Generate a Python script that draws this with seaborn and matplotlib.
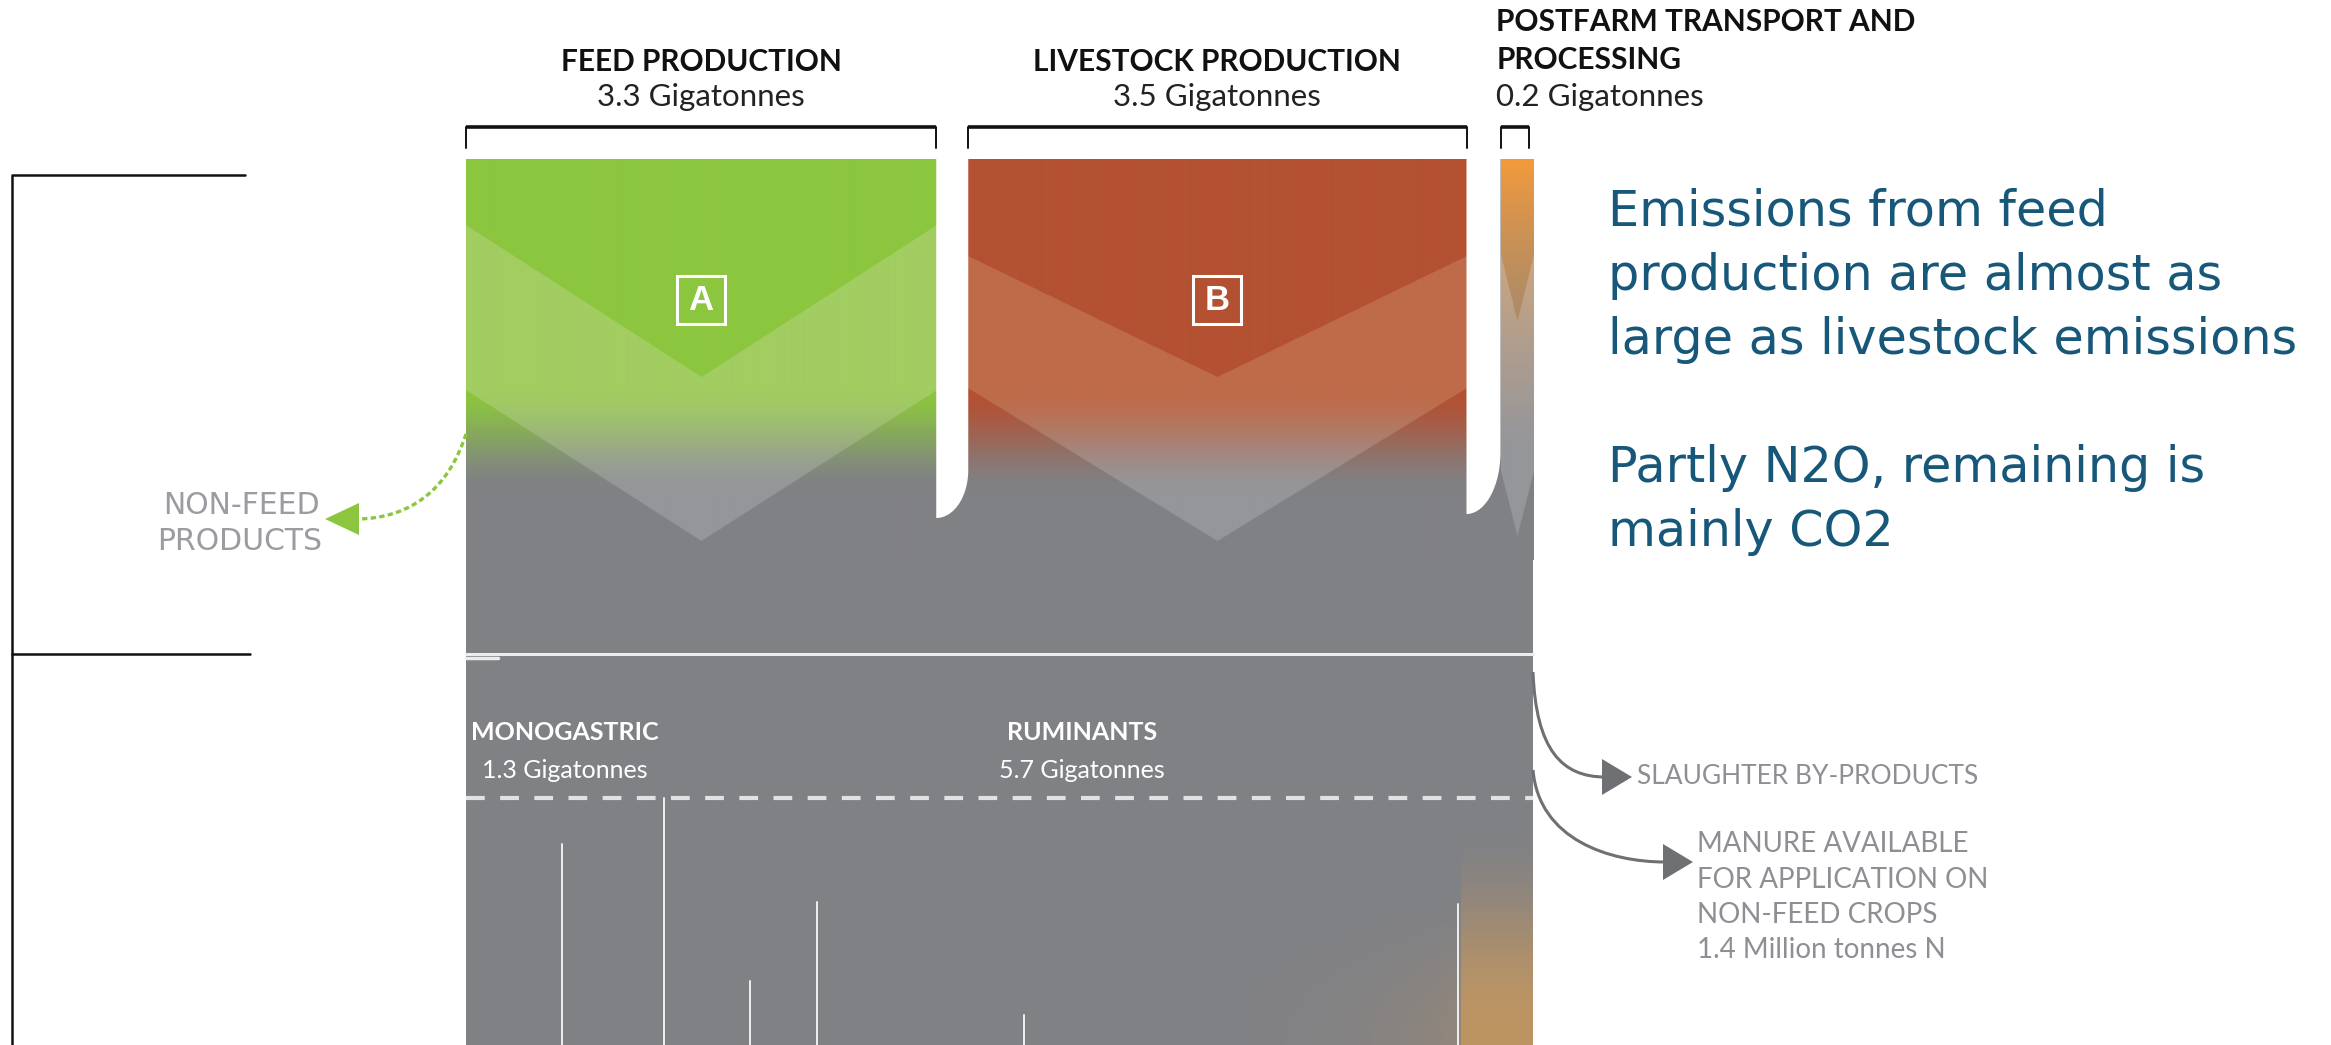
import numpy as np
import matplotlib
matplotlib.use("Agg")
import matplotlib.pyplot as plt
from matplotlib.patches import Polygon, PathPatch, Rectangle
from matplotlib.path import Path
from matplotlib.colors import to_rgb
import seaborn as sns

# ---------------- data ----------------
stages = ["FEED PRODUCTION", "LIVESTOCK PRODUCTION", "POSTFARM TRANSPORT AND\nPROCESSING"]
stage_gt = [3.3, 3.5, 0.2]
stage_colors = ["#8cc63f", "#b35132", "#f29a3c"]
stage_light = ["#a2cd61", "#bf6b4a", "#f3b06e"]
stage_marks = ["A", "B", ""]

species = ["MONOGASTRIC", "RUMINANTS"]
species_gt = [1.3, 5.7]

# sub-flow dividers in the lower panel (position along the Gt axis, depth where they start)
divider_gt = [0.63, 1.86, 2.30, 3.66, 6.51]
divider_top = [844, 981, 902, 1015, 904]

manure_n = 1.4
note_lines = ["Emissions from feed", "production are almost as",
              "large as livestock emissions", "",
              "Partly N2O, remaining is", "mainly CO2"]

# ---------------- layout ----------------
W, H = 2331, 1045
X0, X1 = 466, 1533
TOP, MID, BOTTOM = 159, 654, 1045
S_TOP = 142.5          # px per gigatonne for the stage columns
GAPS = [32, 34]
GRAY = "#808185"
LGRAY = "#95969a"
WHITE = "#ffffff"

sns.set_theme(style="white")
plt.rcParams["font.family"] = ["Lato", "DejaVu Sans"]

fig = plt.figure(figsize=(W / 100, H / 100), dpi=100)
ax = fig.add_axes([0, 0, 1, 1])
ax.set_xlim(0, W)
ax.set_ylim(H, 0)
ax.axis("off")

s_bot = (X1 - X0) / sum(species_gt)

# feed column starts at the left edge, processing column ends at the right edge
cols = [None] * 3
cols[0] = (X0, X0 + stage_gt[0] * S_TOP)
cols[2] = (X1 - stage_gt[2] * S_TOP - 4, X1)
cols[1] = (cols[2][0] - GAPS[1] - stage_gt[1] * S_TOP, cols[2][0] - GAPS[1])
cols[1] = (max(cols[1][0], cols[0][1] + GAPS[0]), cols[1][1])

# chevron geometry per column: upper edge y, upper apex y, lower edge y, lower apex y
chevrons = [(225, 377, 390, 541), (256, 377, 388, 541), (255, 321, 471, 536)]
fades = [(386, 492), (388, 495), (165, 440)]


def smoothstep(u):
    u = np.clip(u, 0, 1)
    return u * u * (3 - 2 * u)


# gray body of the flow
ax.add_patch(Rectangle((X0, TOP), X1 - X0, BOTTOM - TOP + 5, facecolor=GRAY,
                       edgecolor="none", zorder=1))

# coloured stage columns fading into the gray flow
for k, ((x0, x1), col, lcol, chev, fd) in enumerate(zip(cols, stage_colors, stage_light,
                                                        chevrons, fades)):
    y0, y1 = TOP, 560
    ss = 2
    nx = max(int(round((x1 - x0) * ss)), 2)
    ny = int((y1 - y0) * ss)
    xs = x0 + (np.arange(nx) + 0.5) * (x1 - x0) / nx
    ys = y0 + (np.arange(ny) + 0.5) / ss
    X, Y = np.meshgrid(xs, ys)
    c = (x0 + x1) / 2
    u = np.abs(X - c) / ((x1 - x0) / 2)
    e1, a1, e2, a2 = chev
    band = (Y > a1 + (e1 - a1) * u) & (Y < a2 + (e2 - a2) * u)
    if k == 2:
        t = np.clip((Y - fd[0]) / (fd[1] - fd[0]), 0, 1) ** 0.8
    else:
        t = smoothstep((Y - fd[0]) / (fd[1] - fd[0]))
    ramp_d = np.array(sns.blend_palette([col, GRAY], 256))
    ramp_l = np.array(sns.blend_palette([lcol, LGRAY], 256))
    idx = (t * 255).astype(int)
    img = np.where(band[..., None], ramp_l[idx], ramp_d[idx])
    ax.imshow(img, extent=(x0, x1, y1, y0), interpolation="antialiased", zorder=2,
              aspect="auto")

# white gaps between the columns, rounded where the flows merge
gap_curves = [(470, 518), (452, 514)]
for i, (yc, ye) in enumerate(gap_curves):
    g0 = cols[i][1]
    g1 = cols[i + 1][0]
    th = np.linspace(0, np.pi / 2, 40)
    pts = [(g0, TOP - 5), (g1, TOP - 5), (g1, yc)]
    pts += list(zip(g0 + (g1 - g0) * np.cos(th), yc + (ye - yc) * np.sin(th)))
    pts += [(g0, ye)]
    ax.add_patch(Polygon(pts, closed=True, facecolor=WHITE, edgecolor="none", zorder=3))

# A / B markers
for (x0, x1), mark in zip(cols, stage_marks):
    if not mark:
        continue
    c = (x0 + x1) / 2
    ax.add_patch(Rectangle((c - 24, 276), 48, 48, facecolor="none", edgecolor=WHITE,
                           lw=2.2, zorder=4))
    ax.text(c, 301, mark, color=WHITE, fontsize=25, ha="center", va="center",
            family=["Liberation Sans", "DejaVu Sans"], fontweight="bold", zorder=4)

# stage headers and brackets
for k, ((x0, x1), name, g) in enumerate(zip(cols, stages, stage_gt)):
    bx1 = x0 + g * S_TOP if k == 2 else x1
    ax.plot([x0, bx1], [127, 127], color="#111111", lw=2.6, solid_capstyle="butt", zorder=4)
    ax.plot([x0, x0], [127, 148], color="#111111", lw=1.4, zorder=4)
    ax.plot([bx1, bx1], [127, 148], color="#111111", lw=1.4, zorder=4)
    if "\n" in name:
        l1, l2 = name.split("\n")
        ax.text(x0 - 4, 22, l1, fontsize=21.5, fontweight="bold", color="#111111",
                ha="left", va="center")
        ax.text(x0 - 4, 60, l2, fontsize=21.5, fontweight="bold", color="#111111",
                ha="left", va="center")
        ax.text(x0 - 4, 97, f"{g:.1f} Gigatonnes", fontsize=22.5, color="#222222",
                ha="left", va="center")
    else:
        c = (x0 + x1) / 2
        ax.text(c, 62, name, fontsize=21.5, fontweight="bold", color="#111111",
                ha="center", va="center")
        ax.text(c, 97, f"{g:.1f} Gigatonnes", fontsize=22.5, color="#222222",
                ha="center", va="center")

# left bracket
ax.plot([245, 12, 12], [175, 175, H + 5], color="#111111", lw=1.8, zorder=4)
ax.plot([12, 250], [MID, MID], color="#111111", lw=1.8, zorder=4)

# separator between stage and species parts
ax.plot([X0, X1], [MID, MID], color="#ececec", lw=2.2, zorder=4)
ax.plot([X0, X0 + 32], [658, 658], color="#ececec", lw=2.5, zorder=4)

# species labels, centred over each species' share of the flow (left of the processing column)
cum = np.concatenate([[0], np.cumsum(species_gt)])
label_right = (cols[2][0] - X0) / s_bot
for i, (name, g) in enumerate(zip(species, species_gt)):
    right = min(cum[i + 1], label_right)
    c = X0 + (cum[i] + right) / 2 * s_bot
    ax.text(c, 733, name, fontsize=18, fontweight="bold", color=WHITE,
            ha="center", va="center", zorder=5)
    ax.text(c, 770, f"{g:.1f} Gigatonnes", fontsize=18, color=WHITE,
            ha="center", va="center", zorder=5)

ax.plot([X0, X1], [798, 798], color="#e2e2e2", lw=3.0, ls=(0, (4.5, 3.7)), zorder=4)

# warm tint where the processing stream continues
oy0, oy1, ox0 = 800, H, 1250
ny, nx = oy1 - oy0, X1 - ox0
OX, OY = np.meshgrid(np.arange(nx) + ox0 + 0.5, np.arange(ny) + oy0 + 0.5)
ay = smoothstep((OY - 825) / 200) * 0.9
axx = np.where(OX >= 1461, 1.0, 0.32 * np.exp(-(1461 - OX) / 80.0) * smoothstep((OY - 860) / 185))
tint = np.zeros((ny, nx, 4))
tint[..., :3] = to_rgb("#c4975f")
tint[..., 3] = ay * axx
ax.imshow(tint, extent=(ox0, X1, oy1, oy0), interpolation="antialiased", zorder=2,
          aspect="auto")

# divider lines
ax.plot([X0 + cum[1] * s_bot] * 2, [798, H + 5], color="#f0f0f0", lw=1.4, zorder=4)
for g, top in zip(divider_gt, divider_top):
    ax.plot([X0 + g * s_bot] * 2, [top, H + 5], color="#f0f0f0", lw=1.4, zorder=4)


def bezier(p0, p1, p2, p3, **kw):
    path = Path([p0, p1, p2, p3], [Path.MOVETO, Path.CURVE4, Path.CURVE4, Path.CURVE4])
    ax.add_patch(PathPatch(path, facecolor="none", **kw))


def head(tip, length, width, direction, color):
    tx, ty = tip
    bx = tx - length * direction
    ax.add_patch(Polygon([(tx, ty), (bx, ty - width / 2), (bx, ty + width / 2)],
                         closed=True, facecolor=color, edgecolor="none", zorder=6))


ARROW = "#6f7074"
bezier((X1, 672), (X1 + 3, 750), (1562, 777), (1605, 777), edgecolor=ARROW, lw=2.2, zorder=6)
head((1632, 777), 30, 36, 1, ARROW)
bezier((X1, 770), (X1 + 6, 840), (1610, 862), (1665, 862), edgecolor=ARROW, lw=2.2, zorder=6)
head((1693, 862), 30, 36, 1, ARROW)

GREEN = stage_colors[0]
bezier((X0, 434), (448, 490), (410, 518), (358, 519), edgecolor=GREEN, lw=2.4,
       ls=(0, (1.6, 1.0)), zorder=6)
head((325, 519), 34, 32, -1, GREEN)

# annotations
ax.text(320, 505, "NON-FEED", fontsize=21.5, color="#9b9ca1", ha="right", va="center",
        family=["DejaVu Sans"])
ax.text(322, 541, "PRODUCTS", fontsize=21.5, color="#9b9ca1", ha="right", va="center",
        family=["DejaVu Sans"])
ax.text(1637, 777, "SLAUGHTER BY-PRODUCTS", fontsize=19, color="#8d8f94",
        ha="left", va="center")
manure = ["MANURE AVAILABLE", "FOR APPLICATION ON", "NON-FEED CROPS",
          f"{manure_n:.1f} Million tonnes N"]
for k, line in enumerate(manure):
    ax.text(1697, 844 + k * 35.5, line, fontsize=20, color="#8d8f94", ha="left", va="center")

for k, line in enumerate(note_lines):
    if line:
        ax.text(1608, 212 + k * 64, line, fontsize=35.5, color="#17587a", ha="left",
                va="center", family=["DejaVu Sans"])

fig.savefig("out.png", dpi=100)
